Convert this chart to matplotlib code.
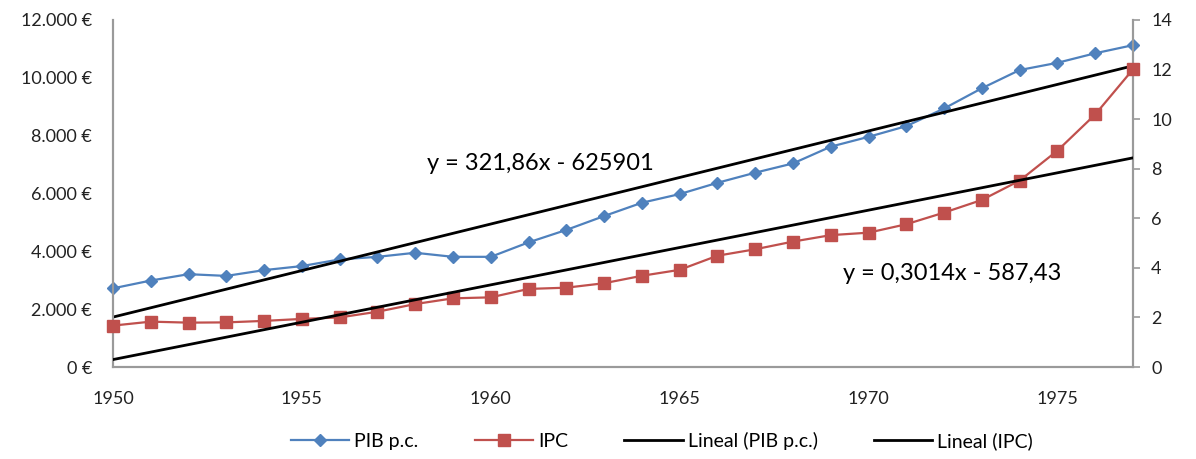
import matplotlib.pyplot as plt
from matplotlib.ticker import FuncFormatter

plt.rcParams['font.family'] = ['Lato', 'DejaVu Sans']

# Values
years = list(range(1950, 1978))
pib_pc = [2720, 2990, 3210, 3150, 3350, 3490, 3720, 3810, 3950, 3810,
          3810, 4310, 4740, 5220, 5680, 5980, 6370, 6720, 7040, 7620,
          7960, 8330, 8940, 9640, 10270, 10520, 10850, 11130]
ipc = [1.67, 1.83, 1.79, 1.80, 1.86, 1.94, 2.00, 2.23, 2.54, 2.77,
       2.81, 3.15, 3.20, 3.38, 3.68, 3.92, 4.49, 4.75, 5.06, 5.32,
       5.42, 5.76, 6.23, 6.74, 7.52, 8.73, 10.19, 12.01]

# Excel linear trend coefficients shown on the chart
trend_pib = (321.86, -625901)
trend_ipc = (0.3014, -587.43)

BLUE = '#4F81BD'
RED = '#C0504D'
GREY = '#9A9A9A'

W, H = 1196, 459
fig = plt.figure(figsize=(W/100, H/100), dpi=100)
ax = fig.add_axes([113/W, 92/H, 1020/W, 347/H])
ax2 = ax.twinx()

ends = [years[0], years[-1]]
l1, = ax.plot(years, pib_pc, color=BLUE, lw=1.6, marker='D', ms=6,
              label='PIB p.c.', clip_on=False, zorder=3)
l3, = ax.plot(ends, [trend_pib[0]*x + trend_pib[1] for x in ends],
              color='black', lw=2, label='Lineal (PIB p.c.)', zorder=4)
l2, = ax2.plot(years, ipc, color=RED, lw=1.6, marker='s', ms=8,
               label='IPC', clip_on=False, zorder=3)
l4, = ax2.plot(ends, [trend_ipc[0]*x + trend_ipc[1] for x in ends],
               color='black', lw=2, label='Lineal (IPC)', zorder=4)

ax.set_xlim(1950, 1977)
ax.set_ylim(0, 12000)
ax2.set_ylim(0, 14)
ax.set_xticks([1950, 1955, 1960, 1965, 1970, 1975])
ax.set_yticks(range(0, 12001, 2000))
ax2.set_yticks(range(0, 15, 2))
ax.yaxis.set_major_formatter(FuncFormatter(
    lambda v, p: '{:,.0f} €'.format(v).replace(',', '.')))

for a in (ax, ax2):
    a.spines['top'].set_visible(False)
    for s in ('left', 'right', 'bottom'):
        a.spines[s].set_color(GREY)
        a.spines[s].set_linewidth(1.5)
    a.tick_params(labelsize=13, colors='#222222')
ax.tick_params(axis='y', length=0, pad=15)
ax.tick_params(axis='x', length=0, pad=17)
ax2.tick_params(axis='y', length=5, width=1.2, color=GREY, pad=8)

fig.text(540/W, 1 - 163/H, 'y = 321,86x - 625901', fontsize=17,
         ha='center', va='center')
fig.text(952/W, 1 - 273/H, 'y = 0,3014x - 587,43', fontsize=17,
         ha='center', va='center')

fig.legend(handles=[l1, l2, l3, l4], loc='center', ncol=4,
           bbox_to_anchor=(662/W, 18/H), frameon=False, fontsize=14,
           handlelength=3.0, columnspacing=2.9, handletextpad=0.25)

fig.savefig('out.png', dpi=100)
